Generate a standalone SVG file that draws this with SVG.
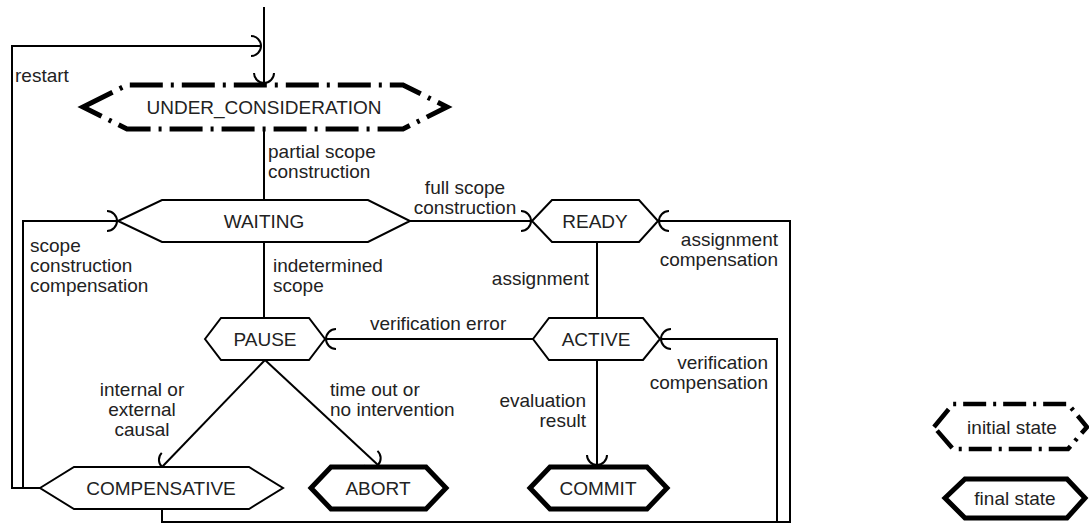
<svg xmlns="http://www.w3.org/2000/svg" width="1089" height="524" viewBox="0 0 1089 524">
<defs>
<style>
.node{fill:#fff;stroke:#000;stroke-width:2}
.init{fill:#fff;stroke:#000;stroke-width:5;stroke-dasharray:33 8 3 8}
.initl{fill:#fff;stroke:#000;stroke-width:4.5;stroke-dasharray:23 7 3 7}
.final{fill:#fff;stroke:#000;stroke-width:5}
.lbl{font-family:"Liberation Sans",Arial,sans-serif;font-size:19px;fill:#222}
.c{text-anchor:middle}
.r{text-anchor:end}
.edge{fill:none;stroke:#000;stroke-width:2}
.arr{marker-end:url(#sock)}
</style>
<marker id="sock" markerUnits="userSpaceOnUse" markerWidth="26" markerHeight="26" viewBox="-13 -13 26 26" refX="0" refY="0" orient="auto">
<path d="M -10 -10 A 10 10 0 0 1 -10 10" fill="none" stroke="#000" stroke-width="2"/>
</marker>
</defs>

<g id="connectors">
<path class="edge arr" d="M264 7 V83"/>
<path class="edge arr" d="M40 488 H12 V46 H261"/>
<path class="edge arr" d="M40 488 H23 V221 H117"/>
<path class="edge" d="M264 129 V200"/>
<path class="edge arr" d="M410 221 H531"/>
<path class="edge" d="M264 242 V318"/>
<path class="edge" d="M597 242 V318"/>
<path class="edge arr" d="M162 509 V522 H790 V221 H659"/>
<path class="edge arr" d="M162 522 H777 V339 H661"/>
<path class="edge arr" d="M533 339 H326"/>
<path class="edge arr" d="M265 360 L162 467"/>
<path class="edge arr" d="M265 360 L378 465"/>
<path class="edge arr" d="M597 360 V465"/>
</g>

<g id="edge-labels" class="lbl">
<text x="15" y="82">restart</text>
<text x="268" y="158">partial scope</text>
<text x="268" y="178">construction</text>
<text class="c" x="465" y="194">full scope</text>
<text class="c" x="465" y="214">construction</text>
<text x="30" y="252">scope</text>
<text x="30" y="272">construction</text>
<text x="30" y="292">compensation</text>
<text x="273" y="272">indetermined</text>
<text x="273" y="292">scope</text>
<text class="r" x="778" y="246">assignment</text>
<text class="r" x="778" y="266">compensation</text>
<text class="r" x="589" y="285">assignment</text>
<text x="370" y="330">verification error</text>
<text class="r" x="768" y="369">verification</text>
<text class="r" x="768" y="389">compensation</text>
<text class="r" x="586" y="407">evaluation</text>
<text class="r" x="586" y="427">result</text>
<text class="c" x="142" y="396">internal or</text>
<text class="c" x="142" y="416">external</text>
<text class="c" x="142" y="436">causal</text>
<text x="330" y="396">time out or</text>
<text x="330" y="416">no intervention</text>
</g>

<g id="UNDER_CONSIDERATION">
<polygon class="init" points="83,107 127,85 403,85 447,107 403,129 127,129"/>
<text class="lbl c" x="264" y="114">UNDER_CONSIDERATION</text>
</g>
<g id="WAITING">
<polygon class="node" points="118,221 162,200 368,200 410,221 368,242 162,242"/>
<text class="lbl c" x="264" y="228">WAITING</text>
</g>
<g id="READY">
<polygon class="node" points="532,221 552,200 639,200 658,221 639,242 552,242"/>
<text class="lbl c" x="595" y="228">READY</text>
</g>
<g id="PAUSE">
<polygon class="node" points="205,339 221,318 309,318 325,339 309,360 221,360"/>
<text class="lbl c" x="265" y="346">PAUSE</text>
</g>
<g id="ACTIVE">
<polygon class="node" points="533,339 549,318 643,318 660,339 643,360 549,360"/>
<text class="lbl c" x="596" y="346">ACTIVE</text>
</g>
<g id="COMPENSATIVE">
<polygon class="node" points="40,488 74,467 249,467 283,488 249,509 74,509"/>
<text class="lbl c" x="161" y="495">COMPENSATIVE</text>
</g>
<g id="ABORT">
<polygon class="final" points="311,488 331,467 426,467 446,488 426,509 331,509"/>
<text class="lbl c" x="378" y="495">ABORT</text>
</g>
<g id="COMMIT">
<polygon class="final" points="530,488 550,467 647,467 667,488 647,509 550,509"/>
<text class="lbl c" x="598" y="495">COMMIT</text>
</g>

<g id="legend-initial">
<polygon class="initl" points="934,427 953,404 1068,404 1087,427 1068,449 953,449"/>
<text class="lbl c" x="1012" y="434">initial state</text>
</g>
<g id="legend-final">
<polygon class="final" points="945,498 965,479 1067,479 1085,498 1067,518 965,518"/>
<text class="lbl c" x="1015" y="505">final state</text>
</g>
</svg>
